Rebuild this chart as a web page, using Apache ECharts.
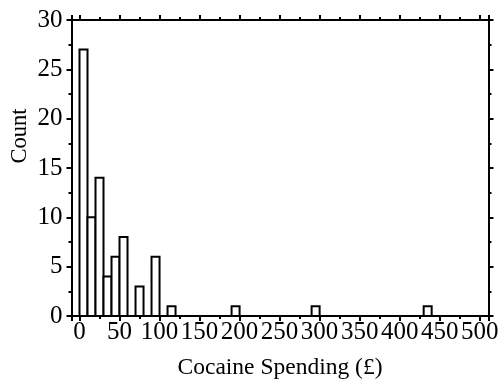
<!DOCTYPE html>
<html>
<head>
<meta charset="utf-8">
<script src="https://cdn.jsdelivr.net/npm/echarts@6/dist/echarts.min.js"></script>
<style>
html,body{margin:0;padding:0;background:#fff;}
#chart{width:502px;height:385px;}
</style>
</head>
<body>
<div id="chart"></div>
<script>
// Histogram data: bin lower edges, upper edges, counts (non-empty bins)
var binLow  = [0, 10, 20, 30, 40, 50, 70, 90, 110, 190, 290, 430];
var binHigh = [10, 20, 30, 40, 50, 60, 80, 100, 120, 200, 300, 440];
var counts  = [27, 10, 14, 4, 6, 8, 3, 6, 1, 1, 1, 1];
var xTitle = 'Cocaine Spending (£)';
var yTitle = 'Count';

var data = binLow.map(function (lo, i) { return [lo, binHigh[i], counts[i]]; });

var FONT = 'Liberation Serif';
var chart = echarts.init(document.getElementById('chart'), null, {renderer: 'canvas'});

function axisCommon(showLabel) {
  return {
    axisLine: {show: true, onZero: false, lineStyle: {color: '#000', width: 2}},
    axisTick: {show: true, inside: false, length: 5, lineStyle: {color: '#000', width: 2}},
    minorTick: {show: true, splitNumber: 2, length: 3, lineStyle: {color: '#000', width: 2}},
    splitLine: {show: false},
    minorSplitLine: {show: false},
    axisLabel: {show: showLabel, color: '#000', fontFamily: FONT, fontSize: 25}
  };
}

var xBottom = Object.assign(axisCommon(true), {
  type: 'value', position: 'bottom', min: -10, max: 511, splitNumber: 10,
  name: xTitle, nameLocation: 'middle', nameGap: 40,
  nameTextStyle: {color: '#000', fontFamily: FONT, fontSize: 23.5}
});
xBottom.axisLabel.margin = 4;
xBottom.axisLabel.hideOverlap = false;
var xTop = Object.assign(axisCommon(false), {
  type: 'value', position: 'top', min: -10, max: 511, splitNumber: 10
});
var yLeft = Object.assign(axisCommon(true), {
  type: 'value', position: 'left', min: 0, max: 30, interval: 5
});
yLeft.axisLabel.margin = 9;
var yRight = Object.assign(axisCommon(false), {
  type: 'value', position: 'right', min: 0, max: 30, interval: 5
});

chart.setOption({
  animation: false,
  backgroundColor: '#fff',
  grid: {left: 71.5, right: 13.5, top: 20, bottom: 69, containLabel: false, outerBoundsMode: 'none'},
  xAxis: [xBottom, xTop],
  yAxis: [yLeft, yRight],
  graphic: [{
    type: 'text',
    x: 20, y: 136,
    rotation: Math.PI / 2,
    style: {text: yTitle, fill: '#000', font: '22.5px "Liberation Serif"', align: 'center', verticalAlign: 'middle'}
  }],
  series: [{
    type: 'custom',
    xAxisIndex: 0,
    yAxisIndex: 0,
    data: data,
    encode: {x: [0, 1], y: 2},
    renderItem: function (params, api) {
      var p0 = api.coord([api.value(0), api.value(2)]);
      var p1 = api.coord([api.value(1), 0]);
      return {
        type: 'rect',
        shape: {x: p0[0], y: p0[1], width: p1[0] - p0[0], height: p1[1] - p0[1]},
        style: {fill: '#fff', stroke: '#000', lineWidth: 2}
      };
    }
  }]
});
</script>
</body>
</html>
